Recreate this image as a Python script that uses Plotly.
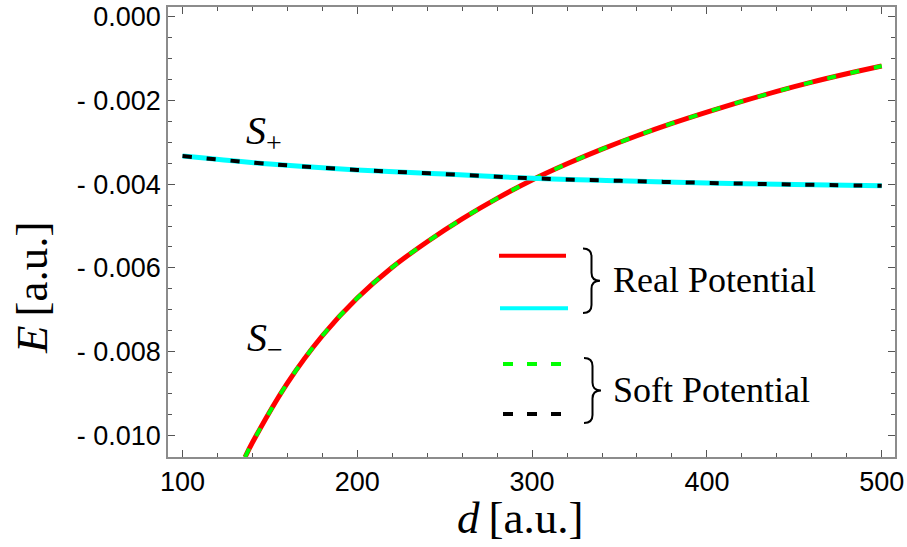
import plotly.graph_objects as go

# ---- data ----
d_plus = [100, 150, 200, 250, 300, 350, 400, 450, 500]
E_plus_real = [-0.00333, -0.00352, -0.00366, -0.00376, -0.00386, -0.00392, -0.00397, -0.00401, -0.00404]
E_plus_soft = [-0.00333, -0.00352, -0.00366, -0.00376, -0.00386, -0.00392, -0.00397, -0.00401, -0.00404]

d_minus = [135.8, 140, 160, 180, 200, 220, 240, 260, 280, 300, 320, 340, 360, 380, 400,
           420, 440, 460, 480, 500]
E_minus_real = [-0.01052, -0.01017, -0.00875, -0.00762, -0.00672, -0.005985, -0.005375,
                -0.00483, -0.00434, -0.00390, -0.003515, -0.003165, -0.002845, -0.00255,
                -0.00228, -0.002025, -0.001785, -0.001565, -0.001365, -0.00118]
E_minus_soft = list(E_minus_real)

y_tickvals = [0.0, -0.002, -0.004, -0.006, -0.008, -0.010]
y_ticktext = ["0.000", "- 0.002", "- 0.004", "- 0.006", "- 0.008", "- 0.010"]
x_tickvals = [100, 200, 300, 400, 500]
x_ticktext = ["100", "200", "300", "400", "500"]

x_range = [91.7, 507.6]
y_range = [-0.010516, 0.00023]

# ---- figure geometry (pixels) ----
W, H = 907, 547
L, R, T, B = 168, 12, 7, 90
PW, PH = W - L - R, H - T - B


def px(x):
    return (x - L) / PW


def py(y):
    return (H - B - y) / PH


SERIF = "Liberation Serif, Times New Roman, serif"
SANS = "Liberation Sans, Arial, sans-serif"

fig = go.Figure()
fig.add_trace(go.Scatter(x=d_minus, y=E_minus_real, mode="lines", line_shape="spline",
                         line=dict(color="#ff0000", width=5), showlegend=False))
fig.add_trace(go.Scatter(x=d_minus, y=E_minus_soft, mode="lines", line_shape="spline",
                         line=dict(color="#00ff00", width=4, dash="9px,15px"), showlegend=False))
fig.add_trace(go.Scatter(x=d_plus, y=E_plus_real, mode="lines", line_shape="spline",
                         line=dict(color="#00ffff", width=5), showlegend=False))
fig.add_trace(go.Scatter(x=d_plus, y=E_plus_soft, mode="lines", line_shape="spline",
                         line=dict(color="#000000", width=4, dash="9px,15px"), showlegend=False))

axis_common = dict(showgrid=False, zeroline=False, showline=True, linecolor="#8c8c8c",
                   linewidth=1.5, mirror="allticks", ticks="inside", ticklen=7,
                   tickwidth=1, tickcolor="#555555", automargin=False,
                   tickfont=dict(family=SANS, size=27, color="black"))

fig.update_xaxes(range=x_range, tickmode="array", tickvals=x_tickvals, ticktext=x_ticktext,
                 minor=dict(ticks="inside", ticklen=4, dtick=20, tick0=100,
                            tickcolor="#555555", tickwidth=1),
                 **axis_common)
fig.update_yaxes(range=y_range, tickmode="array", tickvals=y_tickvals, ticktext=y_ticktext,
                 minor=dict(ticks="inside", ticklen=4, dtick=0.0005, tick0=0,
                            tickcolor="#555555", tickwidth=1),
                 ticklabelstandoff=0,
                 **axis_common)

shapes = []
# legend samples
shapes.append(dict(type="line", xref="paper", yref="paper", x0=px(499), x1=px(566),
                   y0=py(255.7), y1=py(255.7), line=dict(color="#ff0000", width=4)))
shapes.append(dict(type="line", xref="paper", yref="paper", x0=px(500), x1=px(568),
                   y0=py(308.3), y1=py(308.3), line=dict(color="#00ffff", width=4)))
shapes.append(dict(type="line", xref="paper", yref="paper", x0=px(503), x1=px(561),
                   y0=py(364), y1=py(364), line=dict(color="#00ff00", width=4, dash="10px,14px")))
shapes.append(dict(type="line", xref="paper", yref="paper", x0=px(503), x1=px(561),
                   y0=py(414), y1=py(414), line=dict(color="#000000", width=4, dash="10px,14px")))


def brace(x0, ytop, ybot, w=17):
    xm = x0 + w / 2
    xe = x0 + w
    ym = (ytop + ybot) / 2
    r = 8
    pts = [
        f"M{px(x0)},{py(ytop)}",
        f"Q{px(xm)},{py(ytop)} {px(xm)},{py(ytop + r)}",
        f"L{px(xm)},{py(ym - r)}",
        f"Q{px(xm)},{py(ym)} {px(xe)},{py(ym)}",
        f"Q{px(xm)},{py(ym)} {px(xm)},{py(ym + r)}",
        f"L{px(xm)},{py(ybot - r)}",
        f"Q{px(xm)},{py(ybot)} {px(x0)},{py(ybot)}",
    ]
    return dict(type="path", xref="paper", yref="paper", path=" ".join(pts),
                line=dict(color="black", width=2))


shapes.append(brace(583, 248.5, 313))
shapes.append(brace(584, 358, 423))

annotations = [
    dict(text="Real Potential", x=px(611), y=py(280), xref="paper", yref="paper",
         xanchor="left", yanchor="middle", showarrow=False,
         font=dict(family=SERIF, size=36, color="black")),
    dict(text="Soft Potential", x=px(611), y=py(390), xref="paper", yref="paper",
         xanchor="left", yanchor="middle", showarrow=False,
         font=dict(family=SERIF, size=36, color="black")),
    dict(text="<i>S</i><sub>+</sub>", x=px(264), y=py(133), xref="paper", yref="paper",
         xanchor="center", yanchor="middle", showarrow=False,
         font=dict(family=SERIF, size=40, color="black")),
    dict(text="<i>S</i><sub>\u2212</sub>", x=px(265), y=py(340), xref="paper", yref="paper",
         xanchor="center", yanchor="middle", showarrow=False,
         font=dict(family=SERIF, size=40, color="black")),
    dict(text="<i>d</i>\u2009[a.u.]", x=px(520), y=py(518), xref="paper", yref="paper",
         xanchor="center", yanchor="middle", showarrow=False,
         font=dict(family=SERIF, size=45, color="black")),
    dict(text="<i>E</i>\u2009[a.u.]", x=px(32), y=py(288), xref="paper", yref="paper",
         xanchor="center", yanchor="middle", showarrow=False, textangle=-90,
         font=dict(family=SERIF, size=45, color="black")),
]

fig.update_layout(width=W, height=H, margin=dict(l=L, r=R, t=T, b=B),
                  paper_bgcolor="white", plot_bgcolor="white",
                  shapes=shapes, annotations=annotations, showlegend=False)

fig.write_html("out.html", config={"displayModeBar": False},
               post_script="document.body.style.margin='0';document.body.style.padding='0';")
